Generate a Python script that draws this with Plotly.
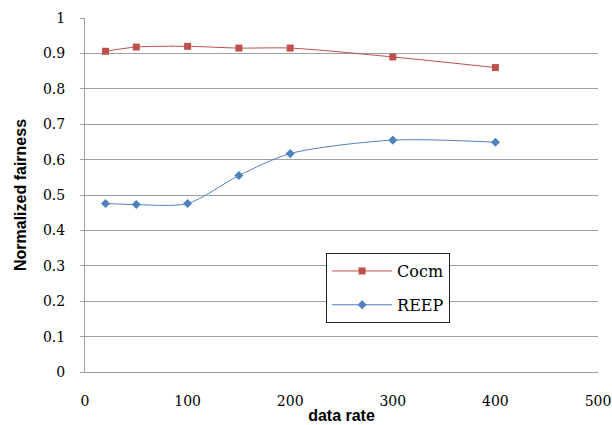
import plotly.graph_objects as go

data_rate = [20, 50, 100, 150, 200, 300, 400]
cocm = [0.906, 0.918, 0.920, 0.915, 0.915, 0.890, 0.860]
reep = [0.476, 0.473, 0.476, 0.555, 0.617, 0.655, 0.649]

SERIF = "DejaVu Serif, Liberation Serif, serif"
SANS = "Liberation Sans, Arial, sans-serif"

fig = go.Figure()
fig.add_trace(go.Scatter(x=data_rate, y=cocm, name="Cocm", mode="lines+markers",
                         legendgroup="a",
                         line=dict(color="#C0504D", width=1, shape="spline", smoothing=0.8),
                         marker=dict(symbol="square", size=7, color="#C0504D")))
fig.add_trace(go.Scatter(x=data_rate, y=reep, name="REEP", mode="lines+markers",
                         legendgroup="b",
                         line=dict(color="#4F81BD", width=1, shape="spline", smoothing=0.8),
                         marker=dict(symbol="diamond", size=7, color="#4F81BD")))

fig.update_layout(
    width=612, height=425,
    margin=dict(l=85, r=14, t=18, b=53, autoexpand=False),
    plot_bgcolor="white", paper_bgcolor="white",
    showlegend=True,
    legend=dict(x=0.47, y=0.336, xanchor="left", yanchor="top",
                bordercolor="#222222", borderwidth=1, bgcolor="white",
                font=dict(family=SERIF, size=16, color="black"),
                itemwidth=60, traceorder="grouped", tracegroupgap=10),
    xaxis=dict(range=[0, 500], dtick=100, showgrid=False, showline=True,
               linecolor="#A0A0A0", linewidth=1, ticks="", automargin=False,
               ticklabelstandoff=16,
               tickfont=dict(family=SERIF, size=14, color="black"),
               title=dict(text="<b>data rate</b>", standoff=2,
                          font=dict(family=SANS, size=16, color="black")),
               zeroline=False),
    yaxis=dict(range=[0, 1], dtick=0.1, showgrid=True, gridcolor="#A0A0A0", gridwidth=1,
               showline=True, linecolor="#A0A0A0", linewidth=1, ticks="outside",
               ticklen=4, tickcolor="#A0A0A0", automargin=False,
               ticklabelstandoff=12,
               tickfont=dict(family=SERIF, size=14, color="black"),
               tickformat="~g",
               title=dict(text="<b>Normalized fairness</b>", standoff=12,
                          font=dict(family=SANS, size=16, color="black")),
               zeroline=False),
)
fig.write_html("out.html", config={"displayModeBar": False},
               post_script="document.body.style.margin='0';document.body.style.overflow='hidden';")
